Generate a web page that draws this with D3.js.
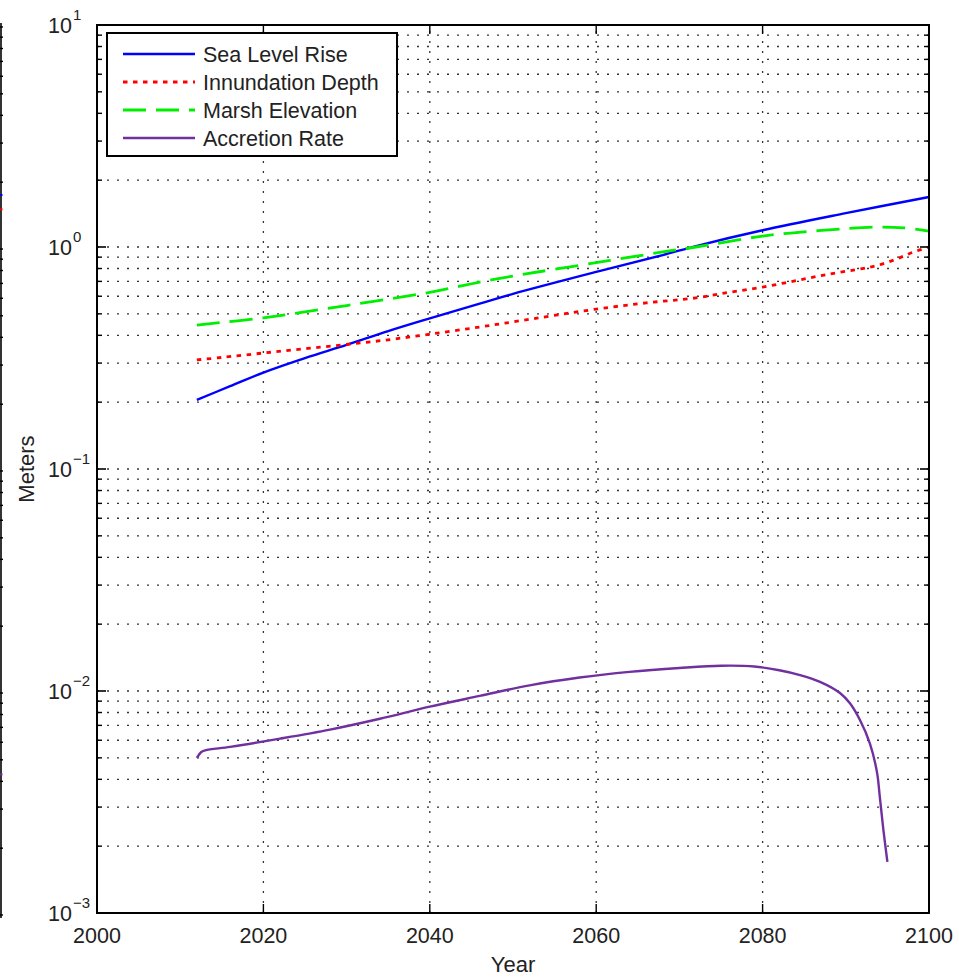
<!DOCTYPE html>
<html>
<head>
<meta charset="utf-8">
<script src="https://cdn.jsdelivr.net/npm/d3@7"></script>
<style>
  html, body { margin: 0; padding: 0; background: #fff; }
  svg { display: block; font-family: "Liberation Sans", Arial, Helvetica, sans-serif; }
</style>
</head>
<body>
<svg id="chart" width="959" height="977"></svg>
<script>
// Marsh model outputs, 2012-2100 (meters, log scale)
const seaLevelYears = [2012, 2016, 2020, 2025, 2030, 2035, 2040, 2046, 2050, 2060, 2068, 2072, 2080, 2090, 2100];
const seaLevelRise  = [0.205, 0.236, 0.272, 0.316, 0.362, 0.418, 0.477, 0.556, 0.615, 0.772, 0.92, 1.01, 1.19, 1.42, 1.68];

const inundationYears = [2012, 2015, 2020, 2025, 2030, 2035, 2040, 2046, 2050, 2060, 2066, 2072, 2076, 2080, 2084, 2088, 2092, 2094, 2096, 2098, 2100];
const inundationDepth = [0.31, 0.318, 0.333, 0.348, 0.364, 0.382, 0.405, 0.436, 0.46, 0.525, 0.56, 0.59, 0.625, 0.66, 0.705, 0.755, 0.8, 0.83, 0.88, 0.945, 1.0];

const marshYears = [2012, 2020, 2030, 2040, 2046, 2050, 2060, 2068, 2072, 2080, 2085, 2090, 2094, 2097, 2100];
const marshElevation = [0.445, 0.48, 0.545, 0.625, 0.695, 0.74, 0.85, 0.95, 1.0, 1.12, 1.17, 1.21, 1.23, 1.22, 1.18];

const accretionYears = [2012, 2012.5, 2013, 2016, 2022, 2028, 2034, 2040, 2046, 2052, 2058, 2064, 2070, 2075, 2079, 2082, 2084.5, 2086.9, 2089.3, 2090.5, 2091.7, 2092.9, 2093.75, 2094.1, 2094.5, 2095];
const accretionRate  = [0.0050, 0.0053, 0.0054, 0.0056, 0.0061, 0.0067, 0.0075, 0.0085, 0.0095, 0.0106, 0.0115, 0.0122, 0.0127, 0.0130, 0.0129, 0.0124, 0.0118, 0.0110, 0.0098, 0.0088, 0.0074, 0.0058, 0.0043, 0.0033, 0.0024, 0.0017];

// Right edge of the adjoining panel: end values of its curves
const neighborEnds = [1.75, 1.51, 0.0043];
const neighborColors = ["#0000ff", "#ff0000", "#7030a0"];

const xTickValues = [2000, 2020, 2040, 2060, 2080, 2100];
const yMajorExponents = [-3, -2, -1, 0, 1];

const seriesNames = ["Sea Level Rise", "Innundation Depth", "Marsh Elevation", "Accretion Rate"];

const svg = d3.select("#chart");
const plot = { left: 97, right: 929, top: 25, bottom: 913 };

const x = d3.scaleLinear().domain([2000, 2100]).range([plot.left, plot.right]);
const y = d3.scaleLog().domain([1e-3, 1e1]).range([plot.bottom, plot.top]);

// minor/major log tick values
const yMajor = yMajorExponents.map(e => Math.pow(10, e));
const yMinor = [];
for (let e = -3; e < 1; e++) for (let k = 2; k <= 9; k++) yMinor.push(k * Math.pow(10, e));

// adjoining panel's right axis at the far left
const edge = svg.append("g");
edge.append("line").attr("x1", 1).attr("x2", 1).attr("y1", 23).attr("y2", 918)
  .attr("stroke", "#000").attr("stroke-width", 1.6);
edge.selectAll("line.t").data(yMajor.concat(yMinor)).join("line")
  .attr("class", "t")
  .attr("x1", 0).attr("x2", 3)
  .attr("y1", d => y(d) + 2).attr("y2", d => y(d) + 2)
  .attr("stroke", "#000").attr("stroke-width", 1.4);
edge.selectAll("line.c").data(neighborEnds).join("line")
  .attr("class", "c")
  .attr("x1", 0).attr("x2", 2.5)
  .attr("y1", d => y(d) + 2).attr("y2", d => y(d) + 2)
  .attr("stroke", (d, i) => neighborColors[i]).attr("stroke-width", 2);

// grid
const grid = svg.append("g").attr("stroke", "#333").attr("stroke-width", 1.3)
  .attr("stroke-dasharray", "2,8").attr("fill", "none");
grid.selectAll("line.gx").data(xTickValues.slice(1, -1)).join("line")
  .attr("class", "gx")
  .attr("x1", d => x(d)).attr("x2", d => x(d))
  .attr("y1", plot.bottom).attr("y2", plot.top);
grid.selectAll("line.gy").data(yMinor.concat(yMajor.slice(1, -1))).join("line")
  .attr("class", "gy")
  .attr("x1", plot.left).attr("x2", plot.right)
  .attr("y1", d => y(d)).attr("y2", d => y(d));

// series
const line = (xs, ys) => d3.line().curve(d3.curveCatmullRom.alpha(0.5))
  .x((d, i) => x(xs[i])).y(d => y(d))(ys);

const styles = [
  { color: "#0000ff", width: 2.4, dash: null, xs: seaLevelYears, ys: seaLevelRise },
  { color: "#ff0000", width: 2.8, dash: "4.5,5.5", xs: inundationYears, ys: inundationDepth },
  { color: "#00ee00", width: 2.8, dash: "23,10", xs: marshYears, ys: marshElevation },
  { color: "#7030a0", width: 2.4, dash: null, xs: accretionYears, ys: accretionRate }
];

const seriesG = svg.append("g").attr("fill", "none");
styles.forEach(s => {
  seriesG.append("path")
    .attr("d", line(s.xs, s.ys))
    .attr("stroke", s.color)
    .attr("stroke-width", s.width)
    .attr("stroke-dasharray", s.dash)
    .attr("stroke-linejoin", "round");
});

// axes frame with inward ticks on all four sides
const axisG = svg.append("g").attr("stroke", "#000");
const majorLen = 9, minorLen = 5;
xTickValues.forEach(v => {
  axisG.append("line").attr("x1", x(v)).attr("x2", x(v))
    .attr("y1", plot.bottom).attr("y2", plot.bottom - majorLen).attr("stroke-width", 1.4);
  axisG.append("line").attr("x1", x(v)).attr("x2", x(v))
    .attr("y1", plot.top).attr("y2", plot.top + majorLen).attr("stroke-width", 1.4);
});
yMajor.forEach(v => {
  axisG.append("line").attr("x1", plot.left).attr("x2", plot.left + majorLen)
    .attr("y1", y(v)).attr("y2", y(v)).attr("stroke-width", 1.6);
  axisG.append("line").attr("x1", plot.right).attr("x2", plot.right - majorLen)
    .attr("y1", y(v)).attr("y2", y(v)).attr("stroke-width", 1.6);
});
yMinor.forEach(v => {
  axisG.append("line").attr("x1", plot.left).attr("x2", plot.left + minorLen)
    .attr("y1", y(v)).attr("y2", y(v)).attr("stroke-width", 1.4);
  axisG.append("line").attr("x1", plot.right).attr("x2", plot.right - minorLen)
    .attr("y1", y(v)).attr("y2", y(v)).attr("stroke-width", 1.4);
});
axisG.append("rect")
  .attr("x", plot.left).attr("y", plot.top)
  .attr("width", plot.right - plot.left).attr("height", plot.bottom - plot.top)
  .attr("fill", "none").attr("stroke-width", 2);

// tick labels
const labelColor = "#222";
svg.append("g").selectAll("text").data(xTickValues).join("text")
  .attr("x", d => x(d)).attr("y", plot.bottom + 30)
  .attr("text-anchor", "middle").attr("font-size", 21.5).attr("fill", labelColor)
  .text(d => d);

const yl = svg.append("g").selectAll("g").data(yMajorExponents).join("g")
  .attr("transform", e => `translate(0,${y(Math.pow(10, e))})`);
yl.append("text")
  .attr("x", 72).attr("y", 8)
  .attr("text-anchor", "end").attr("font-size", 21.5).attr("fill", labelColor)
  .text("10");
yl.append("text")
  .attr("x", 73).attr("y", -5)
  .attr("text-anchor", "start").attr("font-size", 15).attr("fill", labelColor)
  .text(e => e < 0 ? "\u2212" + Math.abs(e) : String(e));

// axis titles
svg.append("text")
  .attr("x", (plot.left + plot.right) / 2).attr("y", 972)
  .attr("text-anchor", "middle").attr("font-size", 22).attr("fill", labelColor)
  .text("Year");
svg.append("text")
  .attr("transform", `translate(34,${(plot.top + plot.bottom) / 2}) rotate(-90)`)
  .attr("text-anchor", "middle").attr("font-size", 22).attr("fill", labelColor)
  .text("Meters");

// legend
const legend = svg.append("g").attr("transform", "translate(107,33)");
legend.append("rect").attr("width", 290).attr("height", 123)
  .attr("fill", "#fff").attr("stroke", "#000").attr("stroke-width", 2);
seriesNames.forEach((name, i) => {
  const s = styles[i];
  const ly = 21 + i * 28;
  legend.append("line").attr("x1", 16).attr("x2", 88).attr("y1", ly).attr("y2", ly)
    .attr("stroke", s.color).attr("stroke-width", s.width).attr("stroke-dasharray", s.dash);
  legend.append("text").attr("x", 96).attr("y", ly + 7.5)
    .attr("font-size", 21.5).attr("fill", labelColor).text(name);
});
</script>
</body>
</html>
